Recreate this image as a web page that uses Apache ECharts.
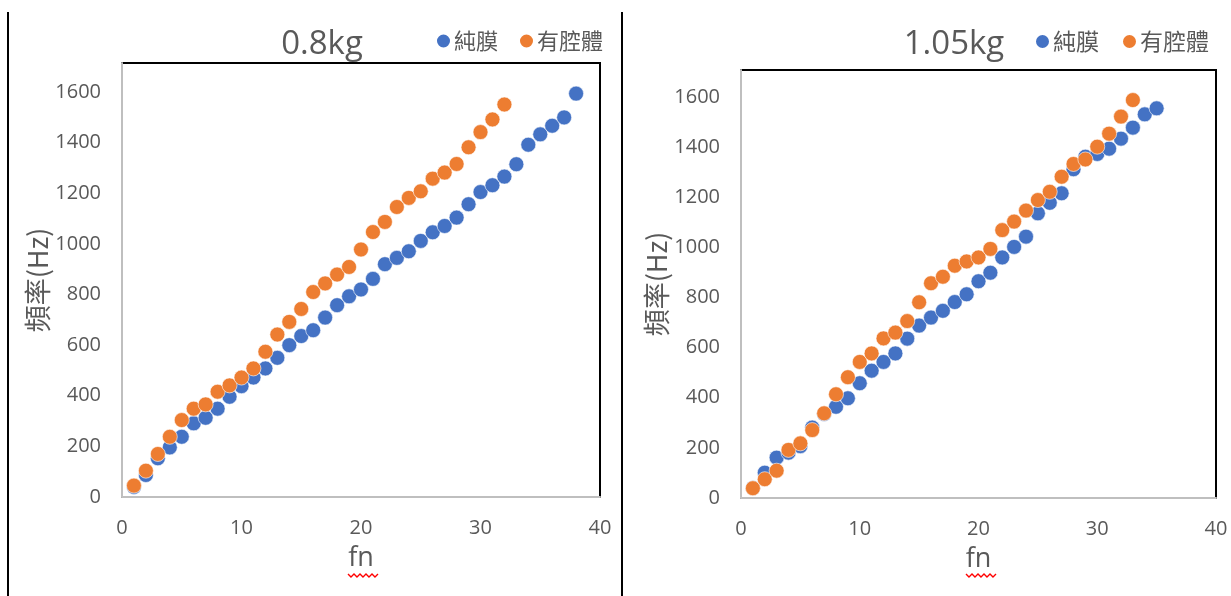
<!DOCTYPE html>
<html>
<head>
<meta charset="utf-8">
<script src="https://cdn.jsdelivr.net/npm/echarts@6/dist/echarts.min.js"></script>
<style>
html,body{margin:0;padding:0;background:#fff;}
#c{width:1231px;height:596px;}
</style>
</head>
<body>
<div id="c"></div>
<script>
// ---- data ----
const seriesNames = ['純膜', '有腔體'];
const chartTitles = ['0.8kg', '1.05kg'];
const xAxisName = 'fn';
const yAxisName = '頻率(Hz)';

// 0.8kg
const fnL_membrane = [1,2,3,4,5,6,7,8,9,10,11,12,13,14,15,16,17,18,19,20,21,22,23,24,25,26,27,28,29,30,31,32,33,34,35,36,37,38];
const freqL_membrane = [40,87,153,196,238,291,313,349,396,438,472,508,550,600,636,659,709,758,793,820,862,920,945,971,1012,1046,1071,1104,1157,1205,1232,1266,1315,1392,1433,1467,1500,1594];
const fnL_cavity = [1,2,3,4,5,6,7,8,9,10,11,12,13,14,15,16,17,18,19,20,21,22,23,24,25,26,27,28,29,30,31,32];
const freqL_cavity = [45,104,170,238,304,349,366,416,441,472,508,574,642,692,743,810,844,879,909,978,1047,1087,1146,1182,1208,1258,1282,1316,1382,1442,1492,1551];

// 1.05kg
const fnR_membrane = [1,2,3,4,5,6,7,8,9,10,11,12,13,14,15,16,17,18,19,20,21,22,23,24,25,26,27,28,29,30,31,32,33,34,35];
const freqR_membrane = [40,101,161,181,207,281,335,364,398,458,508,543,577,636,688,720,747,782,813,865,899,960,1002,1043,1136,1178,1216,1312,1362,1373,1394,1434,1478,1531,1555];
const fnR_cavity = [1,2,3,4,5,6,7,8,9,10,11,12,13,14,15,16,17,18,19,20,21,22,23,24,25,26,27,28,29,30,31,32,33];
const freqR_cavity = [39,75,109,192,218,271,338,414,482,543,577,637,660,706,781,857,883,927,944,960,994,1069,1103,1147,1189,1222,1282,1333,1351,1402,1454,1522,1588];

const xTicks = {min: 0, max: 40, interval: 10};
const yTicks = {min: 0, interval: 200};

// ---- styling ----
const FONT = "'Open Sans', 'Noto Sans CJK TC', sans-serif";
const CJK = "'Noto Sans CJK TC', 'Open Sans', sans-serif";
const TXT = '#595959';
const BLUE = '#4472C4';
const ORANGE = '#ED7D31';

const pairs = (xs, ys) => xs.map((x, i) => [x, ys[i]]);

const grids = [
  {left: 122, top: 63, width: 478, height: 434, yMax: 1715},
  {left: 741, top: 70, width: 475, height: 428, yMax: 1708}
];

function xAx(i) {
  return {
    type: 'value', gridIndex: i, min: xTicks.min, max: xTicks.max, interval: xTicks.interval,
    name: xAxisName, nameLocation: 'middle', nameGap: 48,
    nameTextStyle: {fontFamily: FONT, fontSize: 27, color: TXT},
    axisLine: {show: true, onZero: false, lineStyle: {color: '#BFBFBF', width: 2}},
    axisTick: {show: false},
    splitLine: {show: false},
    axisLabel: {fontFamily: FONT, fontSize: 20, color: TXT, margin: 21, formatter: v => String(v)}
  };
}
function yAx(i) {
  return {
    type: 'value', gridIndex: i, min: yTicks.min, max: grids[i].yMax, interval: yTicks.interval,
    name: yAxisName, nameLocation: 'middle', nameGap: 70,
    nameTextStyle: {fontFamily: CJK, fontSize: 27, color: TXT},
    axisLine: {show: true, onZero: false, lineStyle: {color: '#BFBFBF', width: 2}},
    axisTick: {show: false},
    splitLine: {show: false},
    axisLabel: {fontFamily: FONT, fontSize: 20, color: TXT, margin: 21, showMaxLabel: false,
      formatter: v => String(v)}
  };
}
function sc(name, data, i, color) {
  return {
    type: 'scatter', name, xAxisIndex: i, yAxisIndex: i, data,
    symbol: 'circle', symbolSize: 15,
    itemStyle: {color, borderColor: '#fff', borderWidth: 0.6, opacity: 1},
    emphasis: {disabled: true}
  };
}
function squiggle(x0, y0) {
  const pts = [];
  for (let k = 0; k <= 10; k++) pts.push([x0 + k * 3, y0 + (k % 2 ? 3 : 0)]);
  return {type: 'polyline', shape: {points: pts}, style: {stroke: '#FF0000', lineWidth: 1.4, fill: null}};
}

const option = {
  backgroundColor: '#fff',
  animation: false,
  textStyle: {fontFamily: FONT},
  title: [
    {text: chartTitles[0], left: 317, top: 23, textAlign: 'center',
     textStyle: {fontFamily: FONT, fontSize: 33, fontWeight: 'normal', color: TXT}},
    {text: chartTitles[1], left: 949, top: 23, textAlign: 'center',
     textStyle: {fontFamily: FONT, fontSize: 33, fontWeight: 'normal', color: TXT}}
  ],
  legend: [
    {data: seriesNames, left: 430, top: 25, icon: 'circle', itemWidth: 15, itemHeight: 15, itemGap: 20,
     textStyle: {fontFamily: CJK, fontSize: 22, color: TXT, padding: [0, 0, 0, -2]}},
    {data: seriesNames, left: 1029, top: 25, icon: 'circle', itemWidth: 15, itemHeight: 15, itemGap: 22,
     textStyle: {fontFamily: CJK, fontSize: 23, color: TXT, padding: [0, 0, 0, -2]}}
  ],
  grid: grids.map(g => ({left: g.left, top: g.top, width: g.width, height: g.height,
    show: true, borderColor: '#000', borderWidth: 2, backgroundColor: '#fff'})),
  xAxis: [xAx(0), xAx(1)],
  yAxis: [yAx(0), yAx(1)],
  series: [
    sc(seriesNames[0], pairs(fnL_membrane, freqL_membrane), 0, BLUE),
    sc(seriesNames[1], pairs(fnL_cavity, freqL_cavity), 0, ORANGE),
    sc(seriesNames[0], pairs(fnR_membrane, freqR_membrane), 1, BLUE),
    sc(seriesNames[1], pairs(fnR_cavity, freqR_cavity), 1, ORANGE)
  ],
  graphic: [
    {type: 'line', shape: {x1: 8, y1: 12, x2: 8, y2: 596}, style: {stroke: '#000', lineWidth: 2}},
    {type: 'line', shape: {x1: 622, y1: 12, x2: 622, y2: 596}, style: {stroke: '#000', lineWidth: 2}},
    squiggle(348, 574),
    squiggle(966, 574)
  ]
};

const chart = echarts.init(document.getElementById('c'), null, {renderer: 'canvas'});
chart.setOption(option);
</script>
</body>
</html>
